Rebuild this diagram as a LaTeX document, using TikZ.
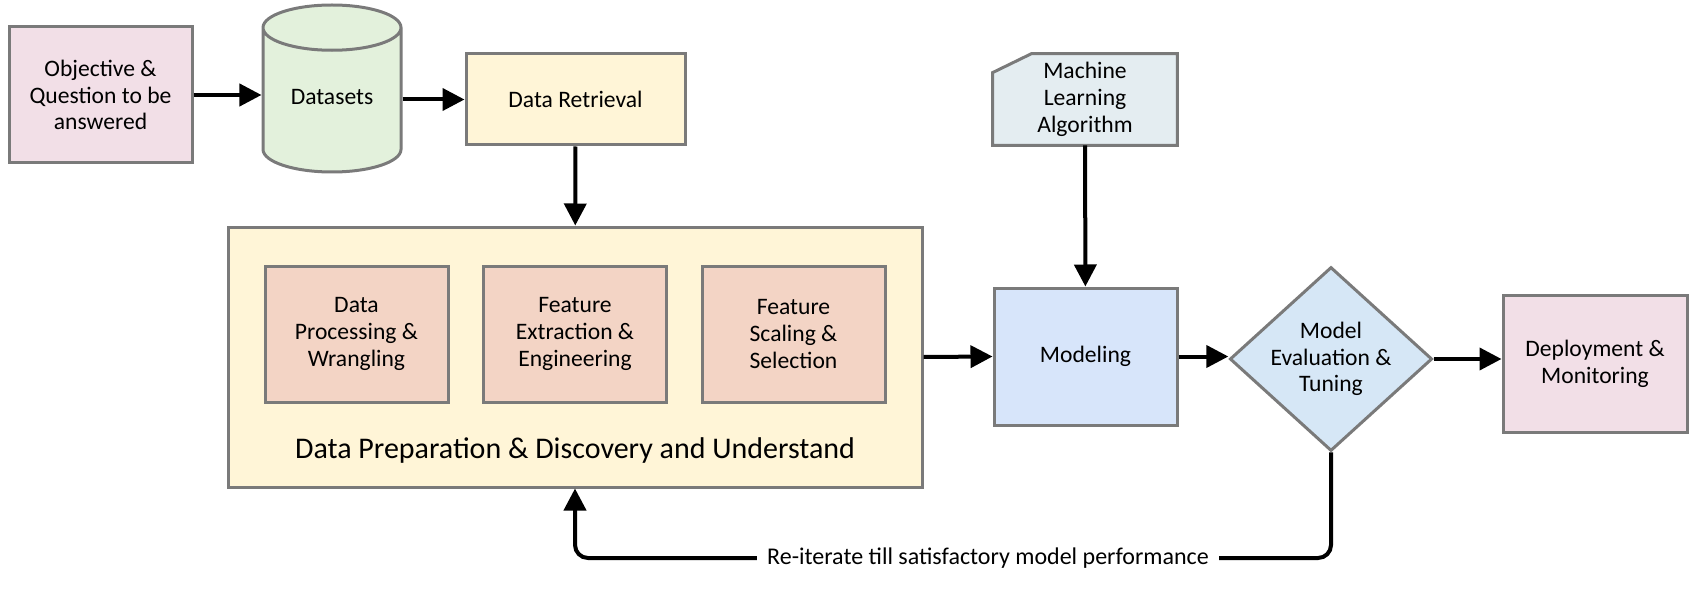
\documentclass[tikz,border=0pt]{standalone}
\usepackage{fontspec}
\setmainfont{Carlito}
\usetikzlibrary{arrows.meta,shapes.geometric}
\definecolor{edgegray}{HTML}{7A7A7A}
\definecolor{objpink}{HTML}{F2DFE7}
\definecolor{dsgreen}{HTML}{E3F1DC}
\definecolor{prepyellow}{HTML}{FFF5D7}
\definecolor{steppeach}{HTML}{F3D4C5}
\definecolor{algogray}{HTML}{E4EDF1}
\definecolor{modblue}{HTML}{D7E5FA}
\definecolor{evalblue}{HTML}{D6E7F6}

\begin{document}
\begin{tikzpicture}[x=0.5pt, y=-0.5pt,
  every node/.style={font=\fontsize{11.8}{13.4}\selectfont, align=center},
  box/.style={draw=edgegray, line width=1.5pt, inner sep=2pt},
  arr/.style={-{Triangle[length=11pt,width=11pt]}, line width=2pt}]
  \useasboundingbox (0,0) rectangle (1700,593);

  % Top row: question, data, retrieval
  \node[box, fill=objpink, minimum width=91.5pt, minimum height=68pt] (obj) at (100.5,95) {Objective \&\\Question to be\\answered};
  \node[box, fill=dsgreen, cylinder, shape border rotate=90, aspect=0.5, anchor=shape center,
        minimum width=69pt, minimum height=83.5pt] (ds) at (332,88.5) {\raisebox{7.6pt}{Datasets}};
  \node[box, fill=prepyellow, minimum width=109.5pt, minimum height=45.5pt] (dr) at (575.5,99.5) {Data Retrieval};

  % Algorithm card with cut corner
  \node[fill=algogray, inner sep=2pt, minimum width=92pt, minimum height=45.5pt] (ml) at (1085,99.5) {Machine\\Learning\\Algorithm};
  \fill[white] (ml.north west) -- ([xshift=19.5pt]ml.north west) -- ([yshift=-9.5pt]ml.north west) -- cycle;
  \draw[edgegray, line width=1.5pt] ([yshift=-9.5pt]ml.north west) -- ([xshift=19.5pt]ml.north west)
    -- (ml.north east) -- (ml.south east) -- (ml.south west) -- cycle;

  % Preparation block with its three steps
  \node[box, fill=prepyellow, minimum width=347pt, minimum height=130pt] (prep) at (575,357) {};
  \node[box, fill=steppeach, minimum width=91.5pt, minimum height=68pt] (wrang) at (356.5,334) {Data\\Processing \&\\Wrangling};
  \node[box, fill=steppeach, minimum width=91.5pt, minimum height=68pt] (feat) at (575,334) {Feature\\Extraction \&\\Engineering};
  \node[box, fill=steppeach, minimum width=91.5pt, minimum height=68pt] (scal) at (793.5,334) {Feature\\Scaling \&\\Selection};
  \node[font=\fontsize{15}{18}\selectfont] (preplbl) at (575,450) {Data Preparation \& Discovery and Understand};

  % Right: modeling, evaluation, deployment
  \node[box, fill=modblue, minimum width=91.5pt, minimum height=68.5pt] (mod) at (1085.5,356.5) {Modeling};
  \node[box, fill=evalblue, diamond, aspect=1.1, inner sep=0pt,
        minimum width=99pt, minimum height=90pt] (eval) at (1331,359) {Model\\Evaluation \&\\Tuning};
  \node[box, fill=objpink, minimum width=92pt, minimum height=68.5pt] (dep) at (1595,363.5) {Deployment \&\\Monitoring};

  \node[fill=white, inner sep=5pt, font=\fontsize{12}{14}\selectfont] (iter) at (988,558) {Re-iterate till satisfactory model performance};

  % Arrows
  \draw[arr] (obj.east) -- (ds.west |- obj.east);
  \draw[arr] (ds.east |- dr.west) -- (dr.west);
  \draw[arr] (dr) -- (prep);
  \draw[arr] (ml) -- (mod);
  \draw[arr] (prep.east) -- (mod.west);
  \draw[arr] (mod.east) -- (mod.east -| eval.west);
  \draw[arr] (eval.east) -- (eval.east -| dep.west);

  % Feedback loop
  \draw[line width=2pt, rounded corners=6.5pt] (eval.south) |- (iter.east);
  \draw[arr, rounded corners=6.5pt] (iter.west) -| (prep.south);
\end{tikzpicture}
\end{document}
